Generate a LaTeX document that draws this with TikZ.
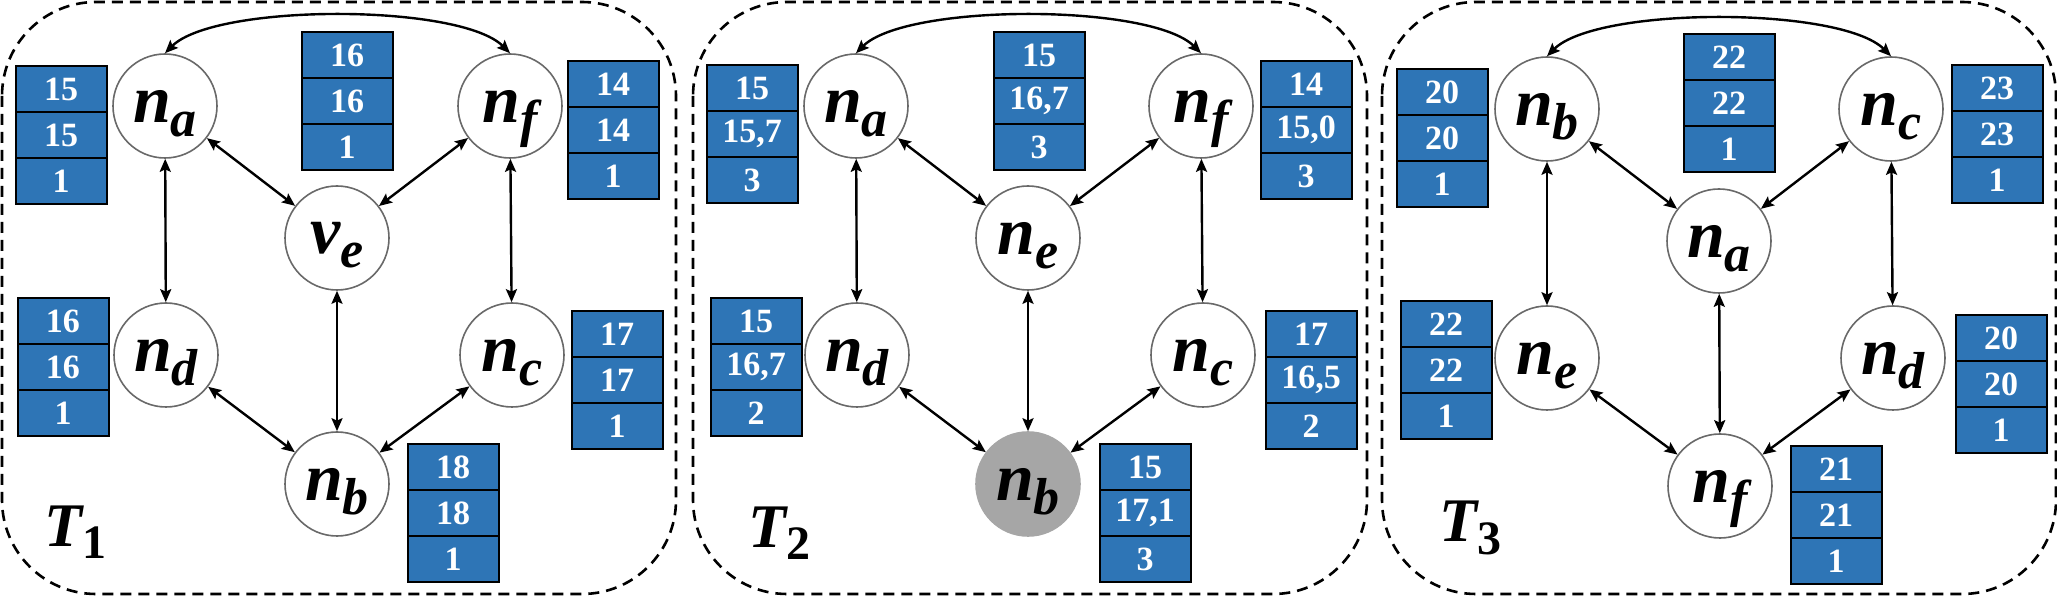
\documentclass[tikz,border=0pt]{standalone}
\usepackage{fontspec}
\setmainfont{Liberation Serif}
\usetikzlibrary{arrows.meta}
\definecolor{cellblue}{RGB}{46,117,182}
\definecolor{ringgray}{RGB}{105,105,105}
\definecolor{nodegray}{RGB}{166,166,166}
\newcommand{\nlab}[2]{\fontsize{34}{36}\selectfont\bfseries\itshape #1\raisebox{-7pt}[0pt][0pt]{\fontsize{26}{28}\selectfont\bfseries\itshape #2}}
\newcommand{\tlab}[2]{\fontsize{31}{33}\selectfont\bfseries\itshape #1\raisebox{-6pt}{\fontsize{24}{26}\selectfont\bfseries\upshape #2}}
\newcommand{\numtable}[6]{%
  \node[cell] (#1-1) at (#2,#3+23) {#4};
  \node[cell] (#1-2) at (#2,#3+69) {#5};
  \node[cell] (#1-3) at (#2,#3+115) {#6};
}
\newcommand{\panellinks}[6]{%
  \draw[link] (#1) -- (#4);
  \draw[link] (#2) -- (#5);
  \draw[link] (#1) -- (#3);
  \draw[link] (#2) -- (#3);
  \draw[link] (#4) -- (#6);
  \draw[link] (#5) -- (#6);
  \draw[link] (#3) -- (#6);
  \draw[link] (#1.north) .. controls +(50,-50) and +(-50,-50) .. (#2.north);
}
\tikzset{
  vtx/.style={circle, draw=ringgray, line width=0.8pt, fill=white, minimum size=52pt, inner sep=0pt},
  hot/.style={vtx, fill=nodegray, draw=nodegray},
  cell/.style={rectangle, draw=black, line width=1pt, fill=cellblue, minimum width=45.5pt, minimum height=23pt, inner sep=0pt, text=white, font=\fontsize{17}{18}\selectfont\bfseries},
  link/.style={{Stealth[length=6.5pt,width=5.5pt,inset=1.2pt]}-{Stealth[length=6.5pt,width=5.5pt,inset=1.2pt]}, line width=1.2pt},
  panel/.style={draw, line width=1.3pt, dash pattern=on 5.5pt off 3.5pt, rounded corners=47pt},
  tname/.style={anchor=base west, inner sep=0pt},
}
\begin{document}
\begin{tikzpicture}[x=0.5pt,y=-0.5pt]
\useasboundingbox (0,0) rectangle (2057,598);
% ---------------- panel 1
\begin{scope}
  \draw[panel] (2,2) rectangle (676,594);
  \node[vtx] (p1a) at (165,106) {\nlab{n}{a}};
  \node[vtx] (p1f) at (510,106) {\nlab{n}{f}};
  \node[vtx] (p1e) at (337,238) {\nlab{v}{e}};
  \node[vtx] (p1d) at (166,355) {\nlab{n}{d}};
  \node[vtx] (p1c) at (512,355) {\nlab{n}{c}};
  \node[vtx] (p1b) at (337,484) {\nlab{n}{b}};
  \panellinks{p1a}{p1f}{p1e}{p1d}{p1c}{p1b}
  \numtable{p1t1}{61}{66}{15}{15}{1}
  \numtable{p1t2}{347}{32}{16}{16}{1}
  \numtable{p1t3}{613}{61}{14}{14}{1}
  \numtable{p1t4}{63}{298}{16}{16}{1}
  \numtable{p1t5}{617}{311}{17}{17}{1}
  \numtable{p1t6}{453}{444}{18}{18}{1}
  \node[tname] (p1T) at (44,546) {\tlab{T}{1}};
\end{scope}
% ---------------- panel 2
\begin{scope}[xshift=345.5pt]
  \draw[panel] (2,2) rectangle (676,594);
  \node[vtx] (p2a) at (165,106) {\nlab{n}{a}};
  \node[vtx] (p2f) at (510,106) {\nlab{n}{f}};
  \node[vtx] (p2e) at (337,238) {\nlab{n}{e}};
  \node[vtx] (p2d) at (166,355) {\nlab{n}{d}};
  \node[vtx] (p2c) at (512,355) {\nlab{n}{c}};
  \node[hot] (p2b) at (337,484) {\nlab{n}{b}};
  \panellinks{p2a}{p2f}{p2e}{p2d}{p2c}{p2b}
  \numtable{p2t1}{61}{65}{15}{15,7}{3}
  \numtable{p2t2}{348}{32}{15}{16,7}{3}
  \numtable{p2t3}{615}{61}{14}{15,0}{3}
  \numtable{p2t4}{65}{298}{15}{16,7}{2}
  \numtable{p2t5}{620}{311}{17}{16,5}{2}
  \numtable{p2t6}{454}{444}{15}{17,1}{3}
  \node[tname] (p2T) at (57,547) {\tlab{T}{2}};
\end{scope}
% ---------------- panel 3
\begin{scope}[xshift=690pt]
  \draw[panel] (2,2) rectangle (676,594);
  \node[vtx] (p3b) at (167,109) {\nlab{n}{b}};
  \node[vtx] (p3c) at (511,109) {\nlab{n}{c}};
  \node[vtx] (p3a) at (339,241) {\nlab{n}{a}};
  \node[vtx] (p3e) at (167,358) {\nlab{n}{e}};
  \node[vtx] (p3d) at (513,358) {\nlab{n}{d}};
  \node[vtx] (p3f) at (340,486) {\nlab{n}{f}};
  \panellinks{p3b}{p3c}{p3a}{p3e}{p3d}{p3f}
  \numtable{p3t1}{62}{69}{20}{20}{1}
  \numtable{p3t2}{349}{34}{22}{22}{1}
  \numtable{p3t3}{617}{65}{23}{23}{1}
  \numtable{p3t4}{66}{301}{22}{22}{1}
  \numtable{p3t5}{621}{315}{20}{20}{1}
  \numtable{p3t6}{456}{446}{21}{21}{1}
  \node[tname] (p3T) at (59,542) {\tlab{T}{3}};
\end{scope}
\end{tikzpicture}
\end{document}
